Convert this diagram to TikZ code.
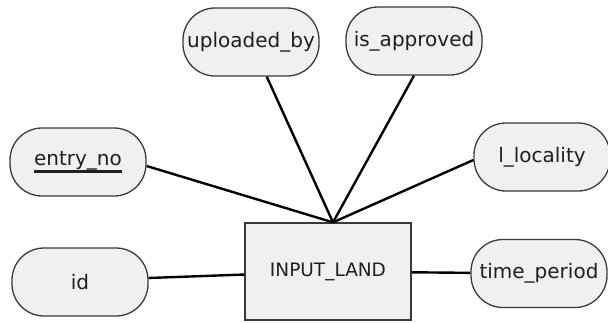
\documentclass[tikz,border=0pt]{standalone}
\usepackage{fontspec}
\setmainfont{DejaVu Sans}
\usepackage{tikz}
\usetikzlibrary{arrows}

\definecolor{boxfill}{HTML}{F0F0F0}
\definecolor{boxline}{HTML}{3A3A3A}

% key attribute: text with a heavy rule under it
\newcommand{\keyattr}[1]{\setbox0=\hbox{#1}\rlap{\rule[-7pt]{\wd0}{2.2pt}}\box0}

\begin{document}
\begin{tikzpicture}[x=1pt,y=-1pt]
      \tikzstyle{attr}=[rectangle,rounded corners=32pt,draw=boxline,line width=1.3pt,
        fill=boxfill,minimum width=136pt,minimum height=68pt,inner sep=0pt,
        font=\fontsize{20}{24}\selectfont,text=black!88]
      \tikzstyle{entity}=[rectangle,draw=boxline,line width=1.3pt,fill=boxfill,
        minimum width=166pt,minimum height=97pt,inner sep=0pt,
        font=\fontsize{18.5}{22}\selectfont,text=black!88]
      \tikzstyle{link}=[line width=2.4pt,black]

      \useasboundingbox (0,0) rectangle (608,322);

      \node[entity](land) at (328,271.5){INPUT\_LAND};
      \coordinate (hub) at ([xshift=5pt]land.north);

      \node[attr](uploaded) at (251,42){uploaded\_by};
      \node[attr](approved) at (414,41){is\_approved};
      \node[attr](entry) at (78,162){\keyattr{entry\_no}};
      \node[attr](locality) at (542,157){l\_locality};
      \node[attr](id) at (80,282){id};
      \node[attr](period) at (539,273.5){time\_period};

      \path[link]
      (uploaded) edge (hub)
      (approved.south) edge (hub)
      ([yshift=-4pt]entry.east) edge (hub)
      ([yshift=-3pt]locality.west) edge (hub)
      ([yshift=4pt]id.east) edge (land)
      (period) edge (land);
\end{tikzpicture}
\end{document}
